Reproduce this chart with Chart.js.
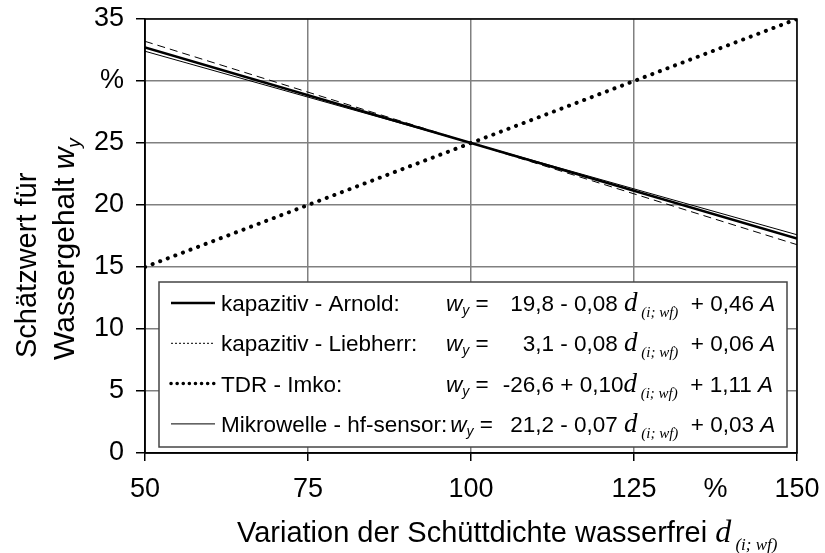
<!DOCTYPE html>
<html lang="de">
<head>
  <meta charset="UTF-8">
  <title>Schätzwert für Wassergehalt</title>
  <script src="https://cdn.jsdelivr.net/npm/chart.js"></script>
  <style>
    body { margin: 0; background: #fff; }
    canvas { display: block; }
  </style>
</head>
<body>
  <canvas id="wasserChart" width="825" height="553"></canvas>
  <script>
    // Schüttdichte in % (x) und geschätzter Wassergehalt in % (y)
    const dichte = [50, 100, 150];
    const arnold = [32.7, 25, 17.3];
    const liebherr = [33.2, 25, 16.8];
    const tdrImko = [15, 25, 35];
    const mikrowelle = [32.4, 25, 17.6];

    const namen = ['kapazitiv - Arnold:', 'kapazitiv - Liebherr:', 'TDR - Imko:', 'Mikrowelle - hf-sensor:'];
    const konstanten = ['19,8', '3,1', '-26,6', '21,2'];
    const dFaktoren = ['- 0,08', '- 0,08', '+ 0,10', '- 0,07'];
    const aFaktoren = ['+ 0,46', '+ 0,06', '+ 1,11', '+ 0,03'];

    const xTicks = [50, 75, 100, 125, 137.5, 150];
    const PROZENT_X = 137.5;

    const SANS = '"Liberation Sans", Arial, sans-serif';
    const SERIF = '"Liberation Serif", "Times New Roman", serif';

    function punkte(werte) {
      return dichte.map((x, i) => ({ x: x, y: werte[i] }));
    }

    // Legendenmuster je Reihe
    const muster = [
      { width: 2.5, dash: [] },
      { width: 1, dash: [2, 2] },
      { width: 3.5, dash: [0.1, 6], cap: 'round' },
      { width: 1, dash: [] }
    ];

    function schreibe(ctx, x, y, teile) {
      teile.forEach(p => {
        ctx.font = p.font;
        ctx.fillText(p.t, x, y + (p.dy || 0));
        x += ctx.measureText(p.t).width;
      });
      return x;
    }

    const rahmenUndTexte = {
      id: 'rahmenUndTexte',
      afterDraw(chart) {
        const ctx = chart.ctx;
        const a = chart.chartArea;
        ctx.save();

        // Rahmen oben und rechts
        ctx.strokeStyle = '#000';
        ctx.lineWidth = 1.5;
        ctx.strokeRect(a.left, a.top, a.right - a.left, a.bottom - a.top);

        // Legende mit Gleichungen
        const lx = 159, ly = 282, lw = 628, lh = 165;
        ctx.fillStyle = '#fff';
        ctx.fillRect(lx, ly, lw, lh);
        ctx.strokeStyle = '#444';
        ctx.lineWidth = 1.5;
        ctx.strokeRect(lx, ly, lw, lh);

        ctx.fillStyle = '#000';
        ctx.textBaseline = 'alphabetic';
        ctx.textAlign = 'left';
        const f = '22.5px ' + SANS;
        const fi = 'italic 22.5px ' + SANS;
        const fsub = 'italic 14px ' + SANS;
        const fd = 'italic 27px ' + SERIF;
        const fdsub = 'italic 15px ' + SERIF;

        namen.forEach((name, i) => {
          const ym = 303 + i * 40.3;
          const yb = ym + 8;
          const m = muster[i];
          ctx.save();
          ctx.strokeStyle = '#000';
          ctx.lineWidth = m.width;
          ctx.setLineDash(m.dash);
          ctx.lineCap = m.cap || 'butt';
          ctx.beginPath();
          ctx.moveTo(171, ym);
          ctx.lineTo(215, ym);
          ctx.stroke();
          ctx.restore();

          const nameEnde = schreibe(ctx, 221, yb, [{ t: name, font: f }]);
          let x = Math.max(446, nameEnde + 3);
          schreibe(ctx, x, yb, [
            { t: 'w', font: fi },
            { t: 'y', font: fsub, dy: 4 },
            { t: ' =', font: f }
          ]);
          ctx.font = f;
          x = 554 - ctx.measureText(konstanten[i]).width;
          schreibe(ctx, x, yb, [
            { t: konstanten[i] + ' ' + dFaktoren[i] + (i === 2 ? '' : ' '), font: f },
            { t: 'd', font: fd },
            { t: ' (i; wf)', font: fdsub, dy: 6 },
            { t: '  ' + aFaktoren[i] + ' ', font: f },
            { t: 'A', font: fi }
          ]);
        });

        // Achsentitel x
        schreibe(ctx, 237, 542, [
          { t: 'Variation der Schüttdichte wasserfrei ', font: '29px ' + SANS },
          { t: 'd', font: 'italic 32px ' + SERIF },
          { t: ' (i; wf)', font: 'italic 17px ' + SERIF, dy: 8 }
        ]);

        // Achsentitel y, zweizeilig und gedreht
        ctx.save();
        ctx.rotate(-Math.PI / 2);
        schreibe(ctx, -358, 36, [{ t: 'Schätzwert für', font: '29px ' + SANS }]);
        schreibe(ctx, -360, 74, [
          { t: 'Wassergehalt ', font: '30px ' + SANS },
          { t: 'w', font: 'italic 30px ' + SANS },
          { t: 'y', font: 'italic 19px ' + SANS, dy: 6 }
        ]);
        ctx.restore();

        ctx.restore();
      }
    };

    new Chart(document.getElementById('wasserChart').getContext('2d'), {
      type: 'line',
      data: {
        datasets: [
          {
            label: namen[0], data: punkte(arnold),
            borderColor: '#000', borderWidth: 2.5, pointRadius: 0
          },
          {
            label: namen[1], data: punkte(liebherr),
            borderColor: '#000', borderWidth: 1, borderDash: [8, 5], pointRadius: 0
          },
          {
            label: namen[2], data: punkte(tdrImko),
            borderColor: '#000', borderWidth: 4, borderDash: [0.1, 8],
            borderCapStyle: 'round', pointRadius: 0
          },
          {
            label: namen[3], data: punkte(mikrowelle),
            borderColor: '#000', borderWidth: 1, pointRadius: 0
          }
        ]
      },
      options: {
        responsive: false,
        animation: false,
        layout: { padding: { top: 19, right: 28, left: 0, bottom: 0 } },
        plugins: {
          legend: { display: false },
          tooltip: { enabled: false }
        },
        scales: {
          x: {
            type: 'linear',
            min: 50,
            max: 150,
            afterBuildTicks: s => { s.ticks = xTicks.map(v => ({ value: v })); },
            afterFit: s => { s.height = 100; s.paddingLeft = 0; s.paddingRight = 0; },
            ticks: {
              autoSkip: false,
              maxRotation: 0,
              color: '#000',
              padding: 12,
              font: { family: SANS, size: 27 },
              callback: v => (v === PROZENT_X ? '%' : v)
            },
            grid: {
              color: c => (c.tick && c.tick.value === PROZENT_X ? 'rgba(0,0,0,0)' : '#808080'),
              tickColor: c => (c.tick && c.tick.value === PROZENT_X ? 'rgba(0,0,0,0)' : '#000'),
              lineWidth: 1.5,
              tickLength: 8
            },
            border: { color: '#000', width: 1.5 }
          },
          y: {
            min: 0,
            max: 35,
            afterFit: s => { s.width = 145; s.paddingTop = 0; s.paddingBottom = 0; },
            ticks: {
              stepSize: 5,
              color: '#000',
              padding: 12,
              font: { family: SANS, size: 27 },
              callback: v => (v === 30 ? '%' : v)
            },
            grid: {
              color: '#808080',
              tickColor: '#000',
              lineWidth: 1.5,
              tickLength: 9
            },
            border: { color: '#000', width: 1.5 }
          }
        }
      },
      plugins: [rahmenUndTexte]
    });
  </script>
</body>
</html>
